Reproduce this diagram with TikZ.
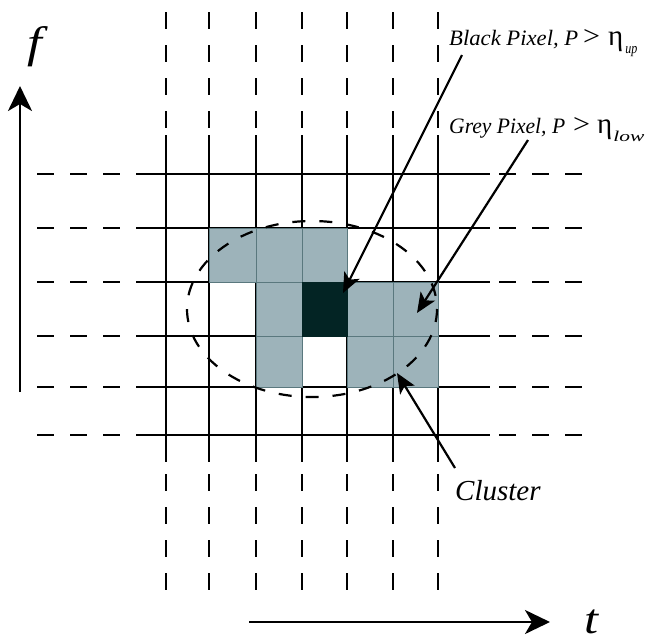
\documentclass[tikz,border=0pt]{standalone}
\usepackage{fontspec}
\setmainfont{Liberation Serif}
\usetikzlibrary{arrows.meta}
\definecolor{cellgrey}{RGB}{157,179,186}
\definecolor{celledge}{RGB}{90,120,126}
\definecolor{celldark}{RGB}{3,36,36}
\newcommand{\gtsign}{{\upshape\fontsize{28}{28}\selectfont\resizebox{17pt}{\height}{>}}}
\newcommand{\etasym}{{\upshape\fontsize{29}{29}\selectfont η}}
\newcommand{\subtext}[2]{\raisebox{-8pt}{\fontsize{15}{15}\selectfont\resizebox{#1}{\height}{#2}}}
\begin{document}
\begin{tikzpicture}[x=1pt,y=-1pt,
  gridline/.style={line width=2.6pt,black},
  dashpat/.style={gridline,dash pattern=on 17pt off 16pt},
  cell/.style={fill=cellgrey,draw=celledge,line width=1pt},
  darkcell/.style={fill=celldark,draw=celldark,line width=1pt},
  clusterline/.style={line width=2.2pt,dash pattern=on 13pt off 14pt},
  pointer/.style={line width=2.2pt,-{Stealth[length=20pt,width=17pt,inset=5pt]}},
  axis/.style={line width=2.6pt,-{Stealth[length=25pt,width=24pt,inset=7pt]}},
  lbl/.style={anchor=base west,inner sep=0pt,font=\fontsize{22}{24}\selectfont\itshape}]
\useasboundingbox (0,0) rectangle (656,641);
% vertical grid lines
\foreach \x in {166,209,256,302,347,393,438}{
  \draw[dashpat] (\x,12) -- (\x,595);
  \draw[gridline] (\x,135) -- (\x,462);
}
% horizontal grid lines
\foreach \y in {174,228,282,336,387,435}{
  \draw[dashpat] (37,\y) -- (592,\y);
  \draw[gridline] (140,\y) -- (490,\y);
}
% cells
\draw[cell] (209,228) rectangle (256,282);
\draw[cell] (256,228) rectangle (302,282);
\draw[cell] (302,228) rectangle (347,282);
\draw[cell] (256,282) rectangle (302,336);
\draw[cell] (347,282) rectangle (393,336);
\draw[cell] (393,282) rectangle (438,336);
\draw[cell] (256,336) rectangle (302,387);
\draw[cell] (347,336) rectangle (393,387);
\draw[cell] (393,336) rectangle (438,387);
\draw[darkcell] (302,282) rectangle (347,336);
% cluster outline
\draw[clusterline] (312,309) ellipse [x radius=125, y radius=88];
% axes
\coordinate (fs) at (20,392);
\coordinate (fe) at (20,86);
\coordinate (ts) at (249,622);
\coordinate (te) at (550,622);
\draw[axis] (fs) -- (fe);
\draw[axis] (ts) -- (te);
\node[inner sep=0pt,font=\fontsize{44}{44}\selectfont\itshape] (flab) at (35,47) {\scalebox{1.2}[1]{f}};
\node[anchor=base,inner sep=0pt,font=\fontsize{42}{42}\selectfont\itshape] (tlab) at (591,633) {\scalebox{1.2}[1]{t}};
% labels
\node[lbl] (blabel) at (449,45) {\resizebox{129pt}{\height}{Black Pixel, P}\kern5pt\gtsign\kern8pt\etasym\kern2pt\subtext{12pt}{up}};
\node[lbl] (glabel) at (449,133) {\resizebox{116pt}{\height}{Grey Pixel, P}\kern8pt\gtsign\kern7pt\etasym\kern1pt\subtext{31pt}{low}};
\node[anchor=base west,inner sep=0pt,font=\fontsize{29}{30}\selectfont\itshape] (clabel) at (455,500) {Cluster};
% pointers
\coordinate (bs) at (462,55);
\coordinate (bt) at (343,293);
\coordinate (gs) at (528,140);
\coordinate (gt) at (417,313);
\coordinate (cs) at (455,468);
\coordinate (ct) at (397,373);
\draw[pointer] (bs) -- (bt);
\draw[pointer] (gs) -- (gt);
\draw[pointer] (cs) -- (ct);
\end{tikzpicture}
\end{document}
